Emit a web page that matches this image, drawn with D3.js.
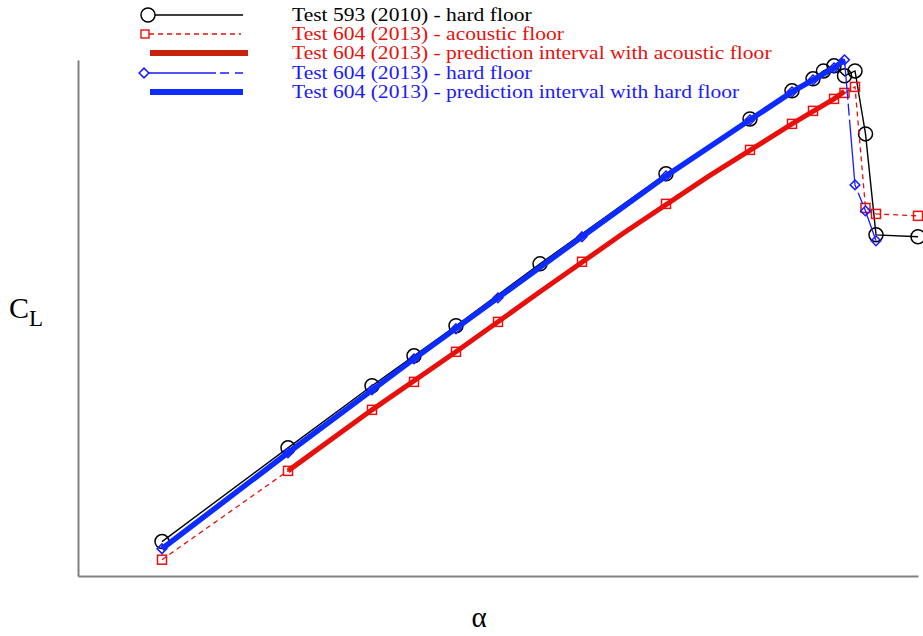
<!DOCTYPE html>
<html>
<head>
<meta charset="utf-8">
<script src="https://cdn.jsdelivr.net/npm/d3@7.9.0/dist/d3.min.js"></script>
<style>
  html, body { margin: 0; padding: 0; background: #fff; }
  svg { display: block; font-family: "Liberation Serif", "DejaVu Serif", serif; }
</style>
</head>
<body>
<svg id="chart" width="923" height="636"></svg>
<script>
// Test 593 (2010) - hard floor
const alpha593 = [-4, 2, 6, 8, 10, 14, 20, 24, 26, 27, 27.5, 28, 28.5, 29, 29.5, 30, 32];
const cl593 = [-0.42, 0.207, 0.622, 0.822, 1.023, 1.437, 2.039, 2.406, 2.594, 2.674, 2.727, 2.761, 2.694, 2.727, 2.306, 1.631, 1.618];

// Test 604 (2013) - acoustic floor
const alphaAcoustic = [-4, 2, 6, 8, 10, 12, 16, 20, 24, 26, 27, 28, 28.5, 29, 29.5, 30, 32];
const clAcoustic = [-0.541, 0.053, 0.461, 0.648, 0.849, 1.049, 1.451, 1.838, 2.199, 2.373, 2.460, 2.540, 2.580, 2.620, 1.811, 1.771, 1.758];

// Test 604 (2013) - hard floor
const alphaHard = [-4, 2, 6, 8, 10, 12, 16, 20, 24, 26, 27, 28, 28.5, 29, 29.5, 30];
const clHard = [-0.468, 0.174, 0.595, 0.802, 1.003, 1.210, 1.618, 2.025, 2.400, 2.587, 2.667, 2.747, 2.801, 1.965, 1.791, 1.591];

// prediction intervals
const predAcAlpha = [2, 6, 10, 14, 18, 22, 26, 28, 28.5];
const predAcCL = [0.053, 0.461, 0.849, 1.25, 1.645, 2.02, 2.373, 2.540, 2.590];
const predHardAlpha = [-4, 2, 8, 12, 16, 20, 24, 26, 28, 28.5];
const predHardCL = [-0.468, 0.174, 0.802, 1.210, 1.618, 2.025, 2.400, 2.587, 2.747, 2.801];

const legendLabels = [
  'Test 593 (2010) - hard floor',
  'Test 604 (2013) - acoustic floor',
  'Test 604 (2013) - prediction interval with acoustic floor',
  'Test 604 (2013) - hard floor',
  'Test 604 (2013) - prediction interval with hard floor'
];
const legendColors = ['#000', '#e8100c', '#e8100c', '#1a1aff', '#1a1aff'];

const svg = d3.select('#chart');

const x = d3.scaleLinear().domain([-8, 32]).range([78, 918]);
const y = d3.scaleLinear().domain([-0.65, 2.8]).range([576, 60]);

// axes: plain grey lines, no ticks
svg.append('g')
  .attr('transform', `translate(0,${y(-0.65)})`)
  .call(d3.axisBottom(x).ticks(0).tickSizeOuter(0))
  .select('.domain').attr('stroke', '#808080').attr('stroke-width', 2);
svg.append('g')
  .attr('transform', `translate(${x(-8)},0)`)
  .call(d3.axisLeft(y).ticks(0).tickSizeOuter(0))
  .select('.domain').attr('stroke', '#808080').attr('stroke-width', 2);

const line = d3.line().x(d => x(d[0])).y(d => y(d[1]));
const zip = (a, b) => a.map((v, i) => [v, b[i]]);

const diamond = d3.symbol().type(d3.symbolDiamond2).size(60);

// Test 593
const d593 = zip(alpha593, cl593);
svg.append('path').attr('d', line(d593))
  .attr('fill', 'none').attr('stroke', '#000').attr('stroke-width', 1.4);
svg.selectAll('.c593').data(d593).join('circle')
  .attr('cx', d => x(d[0])).attr('cy', d => y(d[1])).attr('r', 7)
  .attr('fill', 'none').attr('stroke', '#000').attr('stroke-width', 1.5);

// acoustic floor
svg.append('path').attr('d', line(zip(predAcAlpha, predAcCL)))
  .attr('fill', 'none').attr('stroke', '#e8100c').attr('stroke-width', 5);
const dAc = zip(alphaAcoustic, clAcoustic);
svg.append('path').attr('d', line(dAc))
  .attr('fill', 'none').attr('stroke', '#e8100c').attr('stroke-width', 1.3)
  .attr('stroke-dasharray', '5,4');
svg.selectAll('.sq').data(dAc).join('rect')
  .attr('x', d => x(d[0]) - 4.5).attr('y', d => y(d[1]) - 4.5)
  .attr('width', 9).attr('height', 9)
  .attr('fill', 'none').attr('stroke', '#e8100c').attr('stroke-width', 1.5);

// hard floor
const dHard = zip(alphaHard, clHard);
svg.append('path').attr('d', line(dHard))
  .attr('fill', 'none').attr('stroke', '#1a1aff').attr('stroke-width', 1.3)
  .attr('stroke-dasharray', '70,4,12,4');
svg.selectAll('.dm').data(dHard).join('path')
  .attr('d', diamond)
  .attr('transform', d => `translate(${x(d[0])},${y(d[1])})`)
  .attr('fill', 'none').attr('stroke', '#1a1aff').attr('stroke-width', 1.5);
svg.append('path').attr('d', line(zip(predHardAlpha, predHardCL)))
  .attr('fill', 'none').attr('stroke', '#0c2cff').attr('stroke-width', 5.5);

// legend
const lg = svg.append('g');
const rowY = [15, 34, 53, 73, 92];
lg.append('g')
  .attr('transform', 'translate(292,0) scale(1.165,1)')
  .selectAll('text').data(legendLabels).join('text')
  .attr('x', 0).attr('y', (d, i) => rowY[i] + 6)
  .attr('font-size', 18.5)
  .attr('fill', (d, i) => legendColors[i])
  .text(d => d);

lg.append('line').attr('x1', 148).attr('x2', 243).attr('y1', rowY[0]).attr('y2', rowY[0])
  .attr('stroke', '#000').attr('stroke-width', 1.4);
lg.append('circle').attr('cx', 148).attr('cy', rowY[0]).attr('r', 7)
  .attr('fill', '#fff').attr('stroke', '#000').attr('stroke-width', 1.5);

lg.append('line').attr('x1', 149).attr('x2', 241).attr('y1', rowY[1]).attr('y2', rowY[1])
  .attr('stroke', '#e8100c').attr('stroke-width', 1.3).attr('stroke-dasharray', '5,4');
lg.append('rect').attr('x', 141).attr('y', rowY[1] - 4).attr('width', 8).attr('height', 8)
  .attr('fill', '#fff').attr('stroke', '#e8100c').attr('stroke-width', 1.4);

lg.append('line').attr('x1', 150).attr('x2', 248).attr('y1', rowY[2]).attr('y2', rowY[2])
  .attr('stroke', '#c8220c').attr('stroke-width', 6);

lg.append('line').attr('x1', 149).attr('x2', 243).attr('y1', rowY[3]).attr('y2', rowY[3])
  .attr('stroke', '#1a1aff').attr('stroke-width', 1.3).attr('stroke-dasharray', '67,4,9,6,8,20');
lg.append('path').attr('d', diamond)
  .attr('transform', `translate(144,${rowY[3]})`)
  .attr('fill', '#fff').attr('stroke', '#1a1aff').attr('stroke-width', 1.5);

lg.append('line').attr('x1', 150).attr('x2', 243).attr('y1', rowY[4]).attr('y2', rowY[4])
  .attr('stroke', '#0c2cff').attr('stroke-width', 6);

// axis titles
const cl = svg.append('text').attr('x', 9).attr('y', 318).attr('fill', '#000');
cl.append('tspan').attr('font-size', 30).text('C');
cl.append('tspan').attr('font-size', 23).attr('dy', 8).text('L');

svg.append('text').attr('x', 479).attr('y', 627).attr('text-anchor', 'middle')
  .attr('font-size', 29).attr('fill', '#000').text('α');
</script>
</body>
</html>
